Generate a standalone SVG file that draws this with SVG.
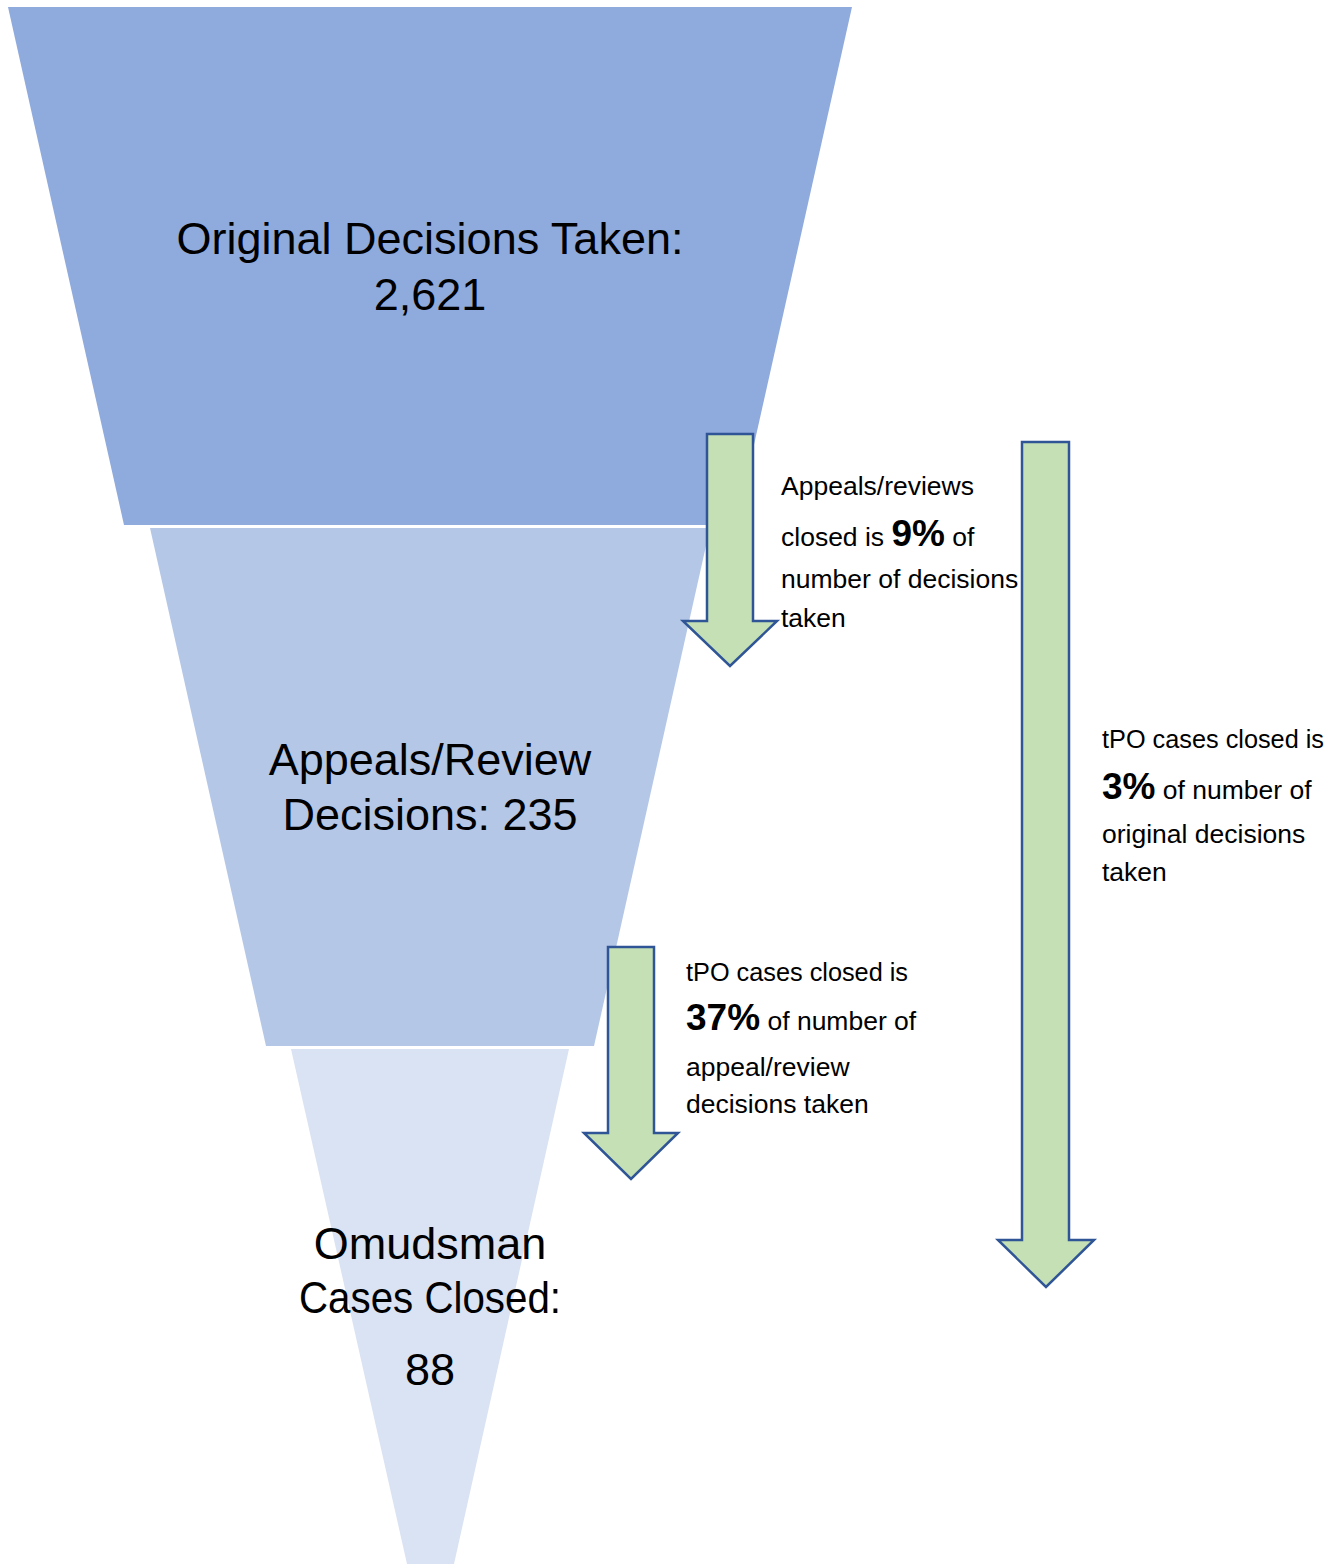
<svg xmlns="http://www.w3.org/2000/svg" width="1342" height="1564" viewBox="0 0 1342 1564">
<style>
.big{font-family:"Liberation Sans",Arial,sans-serif;font-size:45px;fill:#000;text-anchor:middle}
.small{font-family:"Liberation Sans",Arial,sans-serif;font-size:26.5px;fill:#000}
.pct{font-weight:bold;font-size:37px}
.arrow{fill:#C5E0B4;stroke:#2F5597;stroke-width:2.5;stroke-linejoin:miter}
</style>
<rect width="1342" height="1564" fill="#fff"/>
<g id="layer-original">
<polygon points="8,7 852,7 736,525 124,525" fill="#8FAADC"/>
<text class="big" x="430" y="254">Original Decisions Taken:</text>
<text class="big" x="430" y="310">2,621</text>
</g>
<g id="layer-appeals">
<polygon points="150,528 710,528 594,1046 266,1046" fill="#B4C7E7"/>
<text class="big" x="430" y="775">Appeals/Review</text>
<text class="big" x="430" y="830">Decisions: 235</text>
</g>
<g id="layer-ombudsman">
<polygon points="291,1049 569,1049 454,1564 407,1564" fill="#DAE3F3"/>
<text class="big" x="430" y="1259">Omudsman</text>
<text class="big" x="430" y="1313" textLength="262" lengthAdjust="spacingAndGlyphs">Cases Closed:</text>
<text class="big" x="430" y="1385">88</text>
</g>
<g id="connectors">
<polygon class="arrow" points="707,434 753,434 753,621 777,621 730,666 683,621 707,621"/>
<polygon class="arrow" points="608,947 654,947 654,1133 678,1133 631,1179 584,1133 608,1133"/>
<polygon class="arrow" points="1022,442 1069,442 1069,1240 1094,1240 1046,1287 998,1240 1022,1240"/>
</g>
<g id="label-9pct">
<text class="small" x="781" y="495">Appeals/reviews</text>
<text class="small" x="781" y="546">closed is <tspan class="pct">9%</tspan> of</text>
<text class="small" x="781" y="588">number of decisions</text>
<text class="small" x="781" y="627">taken</text>
</g>
<g id="label-37pct">
<text class="small" x="686" y="981" textLength="222" lengthAdjust="spacingAndGlyphs">tPO cases closed is</text>
<text class="small" x="686" y="1030"><tspan class="pct">37%</tspan> of number of</text>
<text class="small" x="686" y="1076">appeal/review</text>
<text class="small" x="686" y="1113">decisions taken</text>
</g>
<g id="label-3pct">
<text class="small" x="1102" y="748" textLength="222" lengthAdjust="spacingAndGlyphs">tPO cases closed is</text>
<text class="small" x="1102" y="799"><tspan class="pct">3%</tspan> of number of</text>
<text class="small" x="1102" y="843">original decisions</text>
<text class="small" x="1102" y="881">taken</text>
</g>
</svg>
